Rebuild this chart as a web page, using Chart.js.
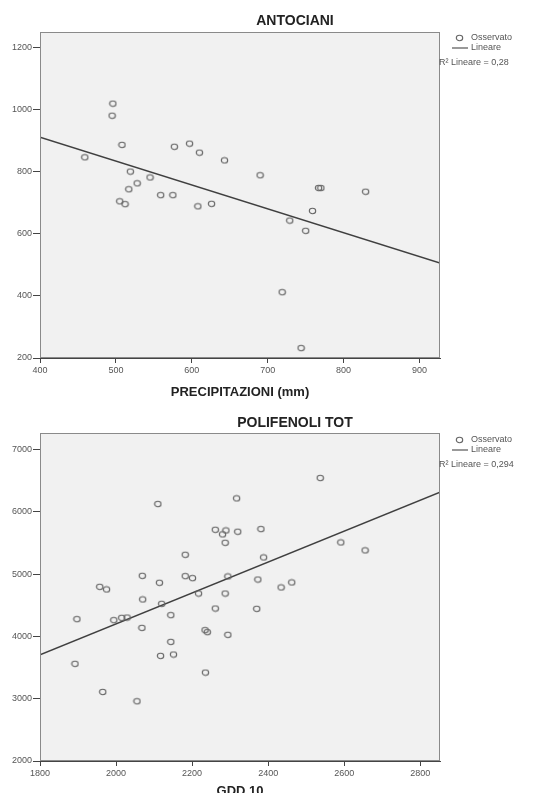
<!DOCTYPE html>
<html>
<head>
<meta charset="utf-8">
<title>ANTOCIANI / POLIFENOLI TOT</title>
<script src="https://cdn.jsdelivr.net/npm/chart.js@4/dist/chart.umd.min.js"></script>
<style>
  html, body { margin: 0; padding: 0; background: #fff; }
  #wrap { position: relative; width: 534px; height: 793px; overflow: hidden; }
  canvas { position: absolute; left: 0; }
</style>
</head>
<body>
<div id="wrap">
  <canvas id="chartAnto" width="534" height="406" style="top:0"></canvas>
  <canvas id="chartPoli" width="534" height="397" style="top:396px"></canvas>
</div>
<script>
// ANTOCIANI vs PRECIPITAZIONI (mm)
const antoPrec = [459, 496, 495, 508, 519, 517, 505, 512, 528, 545, 559, 575, 577, 597,
                  610, 608, 626, 643, 690, 729, 719, 744, 750, 759, 767, 770, 829]
const antoVal = [847, 1020, 981, 887, 801, 744, 705, 696, 763, 782, 725, 725, 881, 891,
                 862, 689, 697, 837, 789, 643, 412, 232, 610, 674, 748, 748, 736]
const antoFitX = [400, 927]
const antoFitY = [912, 506]
const antoXTicks = [400, 500, 600, 700, 800, 900]
const antoYTicks = [200, 400, 600, 800, 1000, 1200]

// POLIFENOLI TOT vs GDD 10
const gdd = [1897, 1892, 1957, 1975, 1965, 1994, 2015, 2029, 2055, 2069, 2070, 2068, 2110, 2114,
             2120, 2117, 2144, 2144, 2151, 2182, 2182, 2201, 2217, 2235, 2234, 2240, 2261, 2261,
             2280, 2289, 2287, 2287, 2294, 2294, 2317, 2320, 2370, 2373, 2381, 2388, 2434, 2462,
             2537, 2591, 2655]
const poli = [4278, 3560, 4797, 4755, 3109, 4262, 4299, 4304, 2959, 4974, 4594, 4138, 6127, 4862,
              4524, 3688, 4342, 3913, 3710, 5312, 4969, 4937, 4690, 3420, 4101, 4069, 5714, 4449,
              5639, 5703, 5505, 4690, 4964, 4026, 6218, 5682, 4444, 4915, 5725, 5269, 4787, 4867,
              6545, 5510, 5382]
const poliFitX = [1800, 2852]
const poliFitY = [3704, 6319]
const poliXTicks = [1800, 2000, 2200, 2400, 2600, 2800]
const poliYTicks = [2000, 3000, 4000, 5000, 6000, 7000]

const FONT = "'Liberation Sans', Arial, sans-serif"

// little open circle like the SPSS marker
const marker = document.createElement('canvas')
marker.width = 9
marker.height = 8
const mctx = marker.getContext('2d')
mctx.strokeStyle = '#666'
mctx.lineWidth = 1.1
mctx.beginPath()
mctx.ellipse(4.5, 4, 3.2, 2.7, 0, 0, Math.PI * 2)
mctx.stroke()

const toPoints = (xs, ys) => xs.map((x, i) => ({ x: x, y: ys[i] }))

// plot box, titles and the right-hand legend
const spssDecor = {
    id: 'spssDecor',
    beforeDraw(chart, args, opts) {
        const { ctx, chartArea: a } = chart
        ctx.save()
        ctx.fillStyle = '#f1f1f1'
        ctx.fillRect(a.left, a.top, a.right - a.left, a.bottom - a.top)
        ctx.restore()
    },
    afterDraw(chart, args, opts) {
        const { ctx, chartArea: a } = chart
        ctx.save()
        ctx.strokeStyle = '#8a8a8a'
        ctx.lineWidth = 1
        ctx.strokeRect(a.left + 0.5, a.top + 0.5, a.right - a.left - 1, a.bottom - a.top - 1)

        ctx.fillStyle = '#222'
        ctx.textAlign = 'center'
        ctx.textBaseline = 'middle'
        ctx.font = 'bold 14px ' + FONT
        ctx.fillText(opts.title, 295, opts.titleY)
        ctx.font = 'bold 13px ' + FONT
        ctx.fillText(opts.xTitle, 240, opts.xTitleY)

        // legend
        const ly = opts.legendY
        ctx.drawImage(marker, 455, ly - 4)
        ctx.strokeStyle = '#555'
        ctx.lineWidth = 1.2
        ctx.beginPath()
        ctx.moveTo(452, ly + 10)
        ctx.lineTo(468, ly + 10)
        ctx.stroke()
        ctx.fillStyle = '#555'
        ctx.textAlign = 'left'
        ctx.font = '9px ' + FONT
        ctx.fillText('Osservato', 471, ly)
        ctx.fillText('Lineare', 471, ly + 10)
        ctx.fillText('R² Lineare = ' + opts.r2, 439, ly + 25)
        ctx.restore()
    }
}

const makeChart = (id, cfg) => {
    const tickFont = { size: 9, family: FONT }
    return new Chart(document.getElementById(id), {
        type: 'scatter',
        data: {
            datasets: [{
                label: 'Osservato',
                data: toPoints(cfg.xs, cfg.ys),
                pointStyle: marker,
                pointRadius: 4,
            }, {
                type: 'line',
                label: 'Lineare',
                data: toPoints(cfg.fitX, cfg.fitY),
                borderColor: '#404040',
                borderWidth: 1.5,
                pointRadius: 0,
                fill: false,
            }]
        },
        options: {
            responsive: false,
            animation: false,
            devicePixelRatio: 1,
            layout: { padding: { top: cfg.top, right: 94, left: 0, bottom: cfg.bottom } },
            plugins: {
                legend: { display: false },
                tooltip: { enabled: false },
                spssDecor: cfg.decor
            },
            scales: {
                x: {
                    type: 'linear',
                    min: cfg.xMin,
                    max: cfg.xMax,
                    afterBuildTicks: (s) => { s.ticks = cfg.xTicks.map(v => ({ value: v })) },
                    afterFit: (s) => { s.height = cfg.xHeight },
                    grid: { drawOnChartArea: false, drawTicks: true, tickLength: 5, color: '#444' },
                    border: { display: true, color: '#444', width: 1 },
                    ticks: { font: tickFont, color: '#555', padding: 2, maxRotation: 0, autoSkip: false,
                             callback: (v) => String(v) }
                },
                y: {
                    type: 'linear',
                    min: cfg.yMin,
                    max: cfg.yMax,
                    afterBuildTicks: (s) => { s.ticks = cfg.yTicks.map(v => ({ value: v })) },
                    afterFit: (s) => { s.width = 40 },
                    grid: { drawOnChartArea: false, drawTicks: true, tickLength: 7, color: '#444' },
                    border: { display: true, color: '#444', width: 1 },
                    ticks: { font: tickFont, color: '#555', padding: 1, autoSkip: false,
                             callback: (v) => String(v) }
                }
            }
        },
        plugins: [spssDecor]
    })
}

makeChart('chartAnto', {
    xs: antoPrec, ys: antoVal, fitX: antoFitX, fitY: antoFitY,
    xMin: 400, xMax: 927, yMin: 200, yMax: 1251,
    xTicks: antoXTicks, yTicks: antoYTicks,
    top: 32, bottom: 10, xHeight: 38,
    decor: { title: 'ANTOCIANI', titleY: 21, xTitle: 'PRECIPITAZIONI (mm)', xTitleY: 392, legendY: 38, r2: '0,28' }
})

makeChart('chartPoli', {
    xs: gdd, ys: poli, fitX: poliFitX, fitY: poliFitY,
    xMin: 1800, xMax: 2852, yMin: 2000, yMax: 7268,
    xTicks: poliXTicks, yTicks: poliYTicks,
    top: 37, bottom: 0, xHeight: 32,
    decor: { title: 'POLIFENOLI TOT', titleY: 27, xTitle: 'GDD 10', xTitleY: 395, legendY: 44, r2: '0,294' }
})
</script>
</body>
</html>
